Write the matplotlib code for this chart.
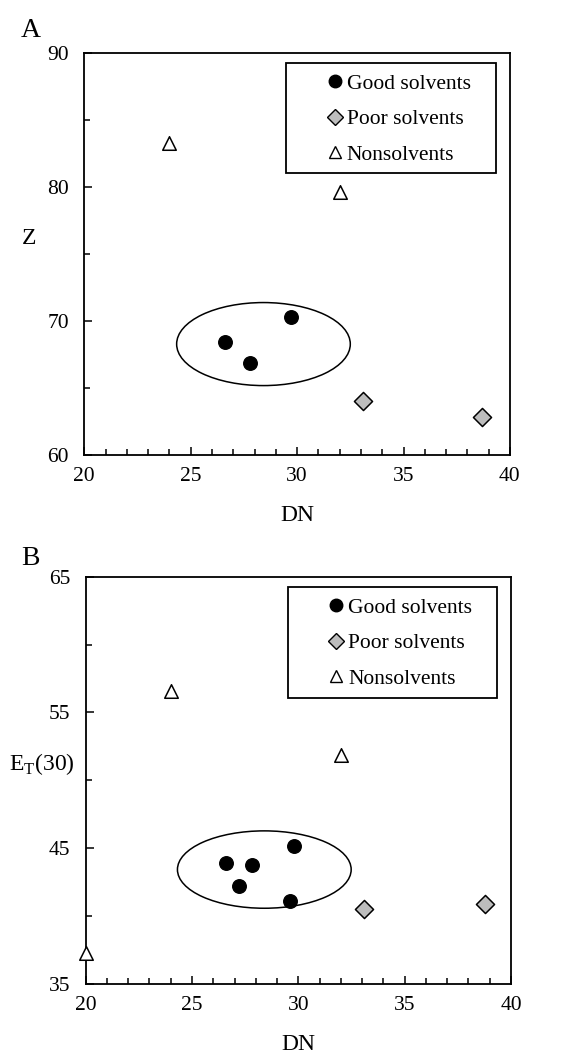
import matplotlib
matplotlib.use("Agg")
import matplotlib.pyplot as plt
from matplotlib.patches import Ellipse, Rectangle
from matplotlib.lines import Line2D
from matplotlib.ticker import MultipleLocator

plt.rcParams['font.family'] = ['Liberation Serif', 'DejaVu Serif']
plt.rcParams['mathtext.fontset'] = 'custom'
plt.rcParams['mathtext.rm'] = 'Liberation Serif'

# panel A: Z vs DN
a_good_dn = [26.6, 27.8, 29.7]
a_good_z = [68.4, 66.9, 70.3]
a_poor_dn = [33.1, 38.7]
a_poor_z = [64.0, 62.8]
a_non_dn = [24.0, 32.0]
a_non_z = [83.3, 79.6]

# panel B: ET(30) vs DN
b_good_dn = [26.6, 27.8, 27.2, 29.8, 29.6]
b_good_et = [43.9, 43.8, 42.2, 45.2, 41.1]
b_poor_dn = [33.1, 38.8]
b_poor_et = [40.5, 40.9]
b_non_dn = [24.0, 32.0, 20.0]
b_non_et = [56.6, 51.9, 37.3]

labels = ['Good solvents', 'Poor solvents', 'Nonsolvents']

fig = plt.figure(figsize=(5.63, 10.6), dpi=100)


def panel(ax, good, poor, non, ylim, ell, letter, letter_y, ylabel, ylab_x):
    ax.scatter(*good, s=95, marker='o', c='black', zorder=3, clip_on=False)
    ax.scatter(*poor, s=85, marker='D', c='#bdbdbd', edgecolors='black',
               linewidths=1.1, zorder=3, clip_on=False)
    ax.scatter(*non, s=95, marker='^', c='white', edgecolors='black',
               linewidths=1.1, zorder=3, clip_on=False)
    ax.add_patch(Ellipse(ell[0], ell[1], ell[2], fill=False, lw=1.1,
                         ec='black'))
    ax.set_xlim(20, 40)
    ax.set_ylim(*ylim)
    ax.xaxis.set_major_locator(MultipleLocator(5))
    ax.xaxis.set_minor_locator(MultipleLocator(1))
    ax.set_yticks(range(ylim[0], ylim[1] + 1, 10))
    ax.set_yticks(range(ylim[0] + 5, ylim[1], 10), minor=True)
    ax.tick_params(which='both', direction='in', top=False, right=False,
                   labelsize=15.5, width=1.1)
    ax.tick_params(which='major', length=6)
    ax.tick_params(which='minor', length=4.5)
    ax.tick_params(axis='x', which='major', pad=9)
    ax.tick_params(axis='y', which='major', pad=11)
    for s in ax.spines.values():
        s.set_linewidth(1.3)
    ax.set_xlabel('DN', fontsize=17, labelpad=13)
    pos = ax.get_position()
    fig.text(ylab_x, pos.y0 + pos.height * 0.54, ylabel, fontsize=17,
             ha='center', va='center')
    fig.text(0.037, letter_y, letter, fontsize=20, va='baseline')

    handles = [
        Line2D([], [], ls='none', marker='o', ms=9, mfc='black', mec='black'),
        Line2D([], [], ls='none', marker='D', ms=8, mfc='#bdbdbd', mec='black'),
        Line2D([], [], ls='none', marker='^', ms=9, mfc='white', mec='black'),
    ]
    ax.add_patch(Rectangle((0.475, 0.703), 0.492, 0.273,
                           transform=ax.transAxes, fill=False, lw=1.3,
                           ec='black', zorder=4))
    ax.legend(handles, labels, loc='upper left', bbox_to_anchor=(0.55, 0.965),
              frameon=False, fontsize=15.5, handlelength=0.9,
              handletextpad=0.12, labelspacing=0.72, borderaxespad=0,
              borderpad=0.3)


ax1 = fig.add_axes([0.1497, 0.5708, 0.756, 0.379])
panel(ax1, (a_good_dn, a_good_z), (a_poor_dn, a_poor_z), (a_non_dn, a_non_z),
      (60, 90), ((28.42, 68.28), 8.16, 6.2), 'A', 0.965, 'Z', 0.052)

ax2 = fig.add_axes([0.1522, 0.0717, 0.7554, 0.3842])
panel(ax2, (b_good_dn, b_good_et), (b_poor_dn, b_poor_et), (b_non_dn, b_non_et),
      (35, 65), ((28.4, 43.43), 8.17, 5.7), 'B', 0.467, r'E$_\mathrm{T}$(30)', 0.074)

fig.savefig('out.png', dpi=100)
